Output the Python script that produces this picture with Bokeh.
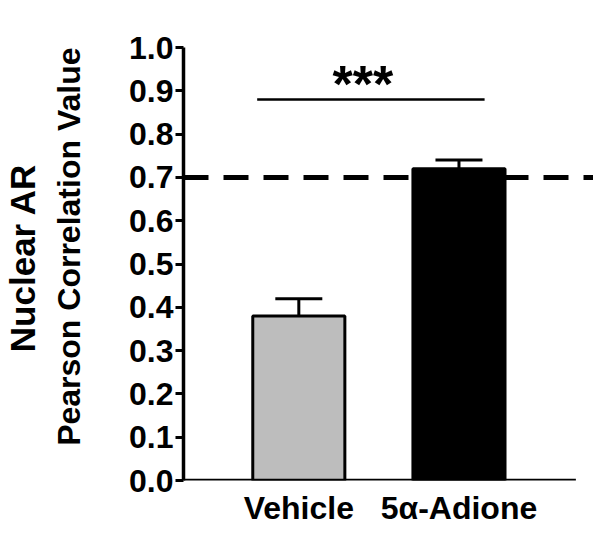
from bokeh.plotting import figure
from bokeh.models import Range1d, FixedTicker, Span, Whisker, TeeHead, ColumnDataSource, Title
from bokeh.core.properties import value
from bokeh.embed import file_html
from bokeh.resources import INLINE

# ---- data ----
groups = ["Vehicle", "5\u03b1-Adione"]
group_x = [1, 2]
means = [0.38, 0.72]
sems = [0.04, 0.02]
bar_colors = ["#bdbdbd", "#000000"]
threshold = 0.7
y_ticks = [0.0, 0.1, 0.2, 0.3, 0.4, 0.5, 0.6, 0.7, 0.8, 0.9, 1.0]
y_tick_labels = ["0.0", "0.1", "0.2", "0.3", "0.4", "0.5", "0.6", "0.7", "0.8", "0.9", "1.0"]
sig_x = [0.74, 2.16]
sig_y = 0.88
sig_label = "***"
sig_label_x = 1.40
sig_label_y = 0.915
y_title_1 = "Nuclear AR"
y_title_2 = "Pearson Correlation Value"

FONT = "Liberation Sans"

x_start, x_end, x_axis_end = 0.28, 2.84, 2.73

p = figure(width=593, height=533, output_backend="svg", toolbar_location=None,
           x_range=Range1d(x_start, x_end), y_range=Range1d(0, 1.0),
           min_border_left=183, min_border_top=47, min_border_bottom=53, min_border_right=0)
p.outline_line_color = None
p.grid.grid_line_color = None
p.background_fill_color = "white"
p.border_fill_color = "white"

src = ColumnDataSource(dict(x=group_x, top=means, color=bar_colors))
src.data["upper"] = [m + s for m, s in zip(means, sems)]

# threshold dashed line
p.add_layout(Span(location=threshold, dimension="width", line_color="black",
                  line_width=5, line_dash="25 15"))

# error bars
p.add_layout(Whisker(source=src, base="x", upper="upper", lower="top",
                     line_color="black", line_width=3,
                     upper_head=TeeHead(size=47, line_width=3, line_color="black"),
                     lower_head=None, level="glyph"))

# bars
p.vbar(x="x", top="top", width=0.575, source=src, fill_color="color",
       line_color="black", line_width=3)

# x baseline
p.segment(x0=[x_start], y0=[0], x1=[x_axis_end], y1=[0], line_color="black", line_width=3.5)

# significance bracket
p.segment(x0=[sig_x[0]], y0=[sig_y], x1=[sig_x[1]], y1=[sig_y], line_color="black", line_width=2.5)
p.text(x=[sig_label_x], y=[sig_label_y], text=[sig_label], text_align="center",
       text_baseline="middle", text_font=value(FONT), text_font_style="bold",
       text_font_size="52px", text_color="black")

# y axis
ya = p.yaxis[0]
ya.ticker = FixedTicker(ticks=y_ticks)
ya.major_label_overrides = {t: l for t, l in zip(y_ticks, y_tick_labels)}
ya.minor_tick_line_color = None
ya.major_tick_in = 0
ya.major_tick_out = 8
ya.major_tick_line_width = 3
ya.axis_line_width = 3.5
ya.major_label_standoff = 2
ya.major_label_text_font = FONT
ya.major_label_text_font_style = "bold"
ya.major_label_text_font_size = "32px"
ya.major_label_text_color = "black"

# x axis
xa = p.xaxis[0]
xa.ticker = FixedTicker(ticks=group_x)
xa.major_label_overrides = {x: g for x, g in zip(group_x, groups)}
xa.axis_line_color = None
xa.major_tick_line_color = None
xa.minor_tick_line_color = None
xa.major_label_standoff = 3
xa.major_label_text_font = FONT
xa.major_label_text_font_style = "bold"
xa.major_label_text_font_size = "32px"
xa.major_label_text_color = "black"

t2 = Title(text=y_title_2, align="right", offset=0, text_font=FONT, text_font_style="bold",
           text_font_size="32px", text_color="black", standoff=79)
t1 = Title(text=y_title_1, align="right", offset=116, text_font=FONT, text_font_style="bold",
           text_font_size="35px", text_color="black", standoff=-64)
p.add_layout(t2, "left")
p.add_layout(t1, "left")

open("out.html", "w").write(file_html(p, INLINE))
